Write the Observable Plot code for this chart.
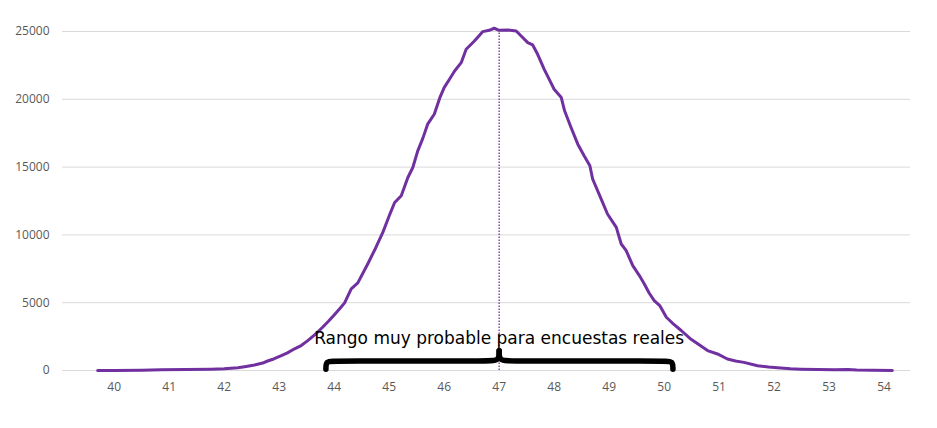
<!DOCTYPE html>
<html><head><meta charset="utf-8">
<script src="https://cdn.jsdelivr.net/npm/d3@7"></script>
<script src="https://cdn.jsdelivr.net/npm/@observablehq/plot@0.6"></script>
<style>body{margin:0;background:#fff}</style>
</head><body><div id="chart"></div>
<script>
const xValues = [39.7,40.0,40.5,40.85,41.3,41.76,42.0,42.25,42.4,42.55,42.7,42.79,42.9,43.04,43.15,43.28,43.4,43.52,43.65,43.79,43.9,44.0,44.1,44.19,44.31,44.43,44.61,44.75,44.885,45.0,45.1,45.22,45.34,45.43,45.52,45.61,45.7,45.82,45.92,46.0,46.1,46.19,46.31,46.4,46.55,46.7,46.82,46.91,47.0,47.16,47.31,47.4,47.52,47.61,47.7,47.82,47.92,48.0,48.13,48.19,48.3,48.43,48.55,48.65,48.7,48.85,48.97,49.13,49.22,49.31,49.43,49.55,49.64,49.73,49.82,49.92,50.04,50.15,50.31,50.49,50.67,50.79,50.97,51.15,51.3,51.45,51.7,51.9,52.06,52.3,52.49,52.8,53.1,53.34,53.5,53.8,54.15];
const counts = [0,0,20,50,70,100,130,200,300,400,550,700,850,1100,1300,1600,1840,2200,2650,3190,3650,4100,4550,4985,6015,6460,7855,9000,10185,11400,12390,12890,14235,14970,16200,17100,18165,18900,20100,20860,21500,22090,22700,23690,24300,24990,25090,25240,25090,25110,25040,24670,24180,24010,23320,22210,21400,20740,20130,19150,18000,16690,15800,15100,14120,12700,11540,10550,9330,8840,7730,7000,6380,5700,5150,4790,3930,3500,2950,2300,1800,1470,1220,850,700,600,350,250,200,130,100,70,50,80,30,10,0];
const xTicks = [40,41,42,43,44,45,46,47,48,49,50,51,52,53,54];
const yTicks = [0,5000,10000,15000,20000,25000];
const meanValue = 47;
const meanPeak = 25100;
const braceRange = [43.85, 50.16];
const braceLevels = {end: 100, bar: 700, tip: 1450};
const annotation = "Rango muy probable para encuestas reales";
const annotationY = 2350;

const series = xValues.map((x, i) => ({x, y: counts[i]}));

// brace built from its range (two halves meeting at the tip)
const brace = [];
for (const end of braceRange) {
  const s = Math.sign(end - meanValue);
  const half = s < 0 ? "left" : "right";
  const pts = [
    [end, braceLevels.end],
    [end, braceLevels.bar],
    [end - s * 0.16, braceLevels.bar],
    [meanValue + s * 0.2, braceLevels.bar],
    [meanValue, braceLevels.bar],
    [meanValue, braceLevels.tip]
  ];
  for (const [x, y] of pts) brace.push({x, y, half});
}

const chart = Plot.plot({
  width: 937,
  height: 428,
  marginLeft: 62,
  marginRight: 27,
  marginTop: 31,
  marginBottom: 58,
  style: {fontFamily: "'Open Sans', sans-serif", fontSize: "12px", color: "#595959", background: "#fff"},
  x: {domain: [39.06, 54.48], ticks: xTicks, tickSize: 0, tickPadding: 12, tickFormat: d3.format("d"), label: null},
  y: {domain: [0, 25000], ticks: yTicks, tickSize: 0, tickPadding: 13, tickFormat: d3.format("d"), label: null},
  marks: [
    Plot.gridY(yTicks, {stroke: "#d9d9d9", strokeOpacity: 1, strokeWidth: 1}),
    Plot.axisX({ticks: xTicks, tickSize: 0, tickPadding: 12, tickFormat: d3.format("d"), label: null}),
    Plot.axisY({ticks: yTicks, tickSize: 0, tickPadding: 13, tickFormat: d3.format("d"), label: null}),
    Plot.ruleX([meanValue], {y1: 0, y2: meanPeak, stroke: "#7030a0", strokeWidth: 1.3, strokeDasharray: "1.5,1.5"}),
    Plot.line(series, {x: "x", y: "y", stroke: "#7030a0", strokeWidth: 3, clip: false}),
    Plot.line(brace, {x: "x", y: "y", z: "half", curve: "basis", stroke: "#000", strokeWidth: 5.5}),
    Plot.text([annotation], {x: meanValue, y: annotationY, text: d => d, fontFamily: "'DejaVu Sans', sans-serif", fontSize: 17, fill: "#000", textAnchor: "middle", lineAnchor: "middle"})
  ]
});
document.getElementById("chart").append(chart);
</script>
</body></html>
